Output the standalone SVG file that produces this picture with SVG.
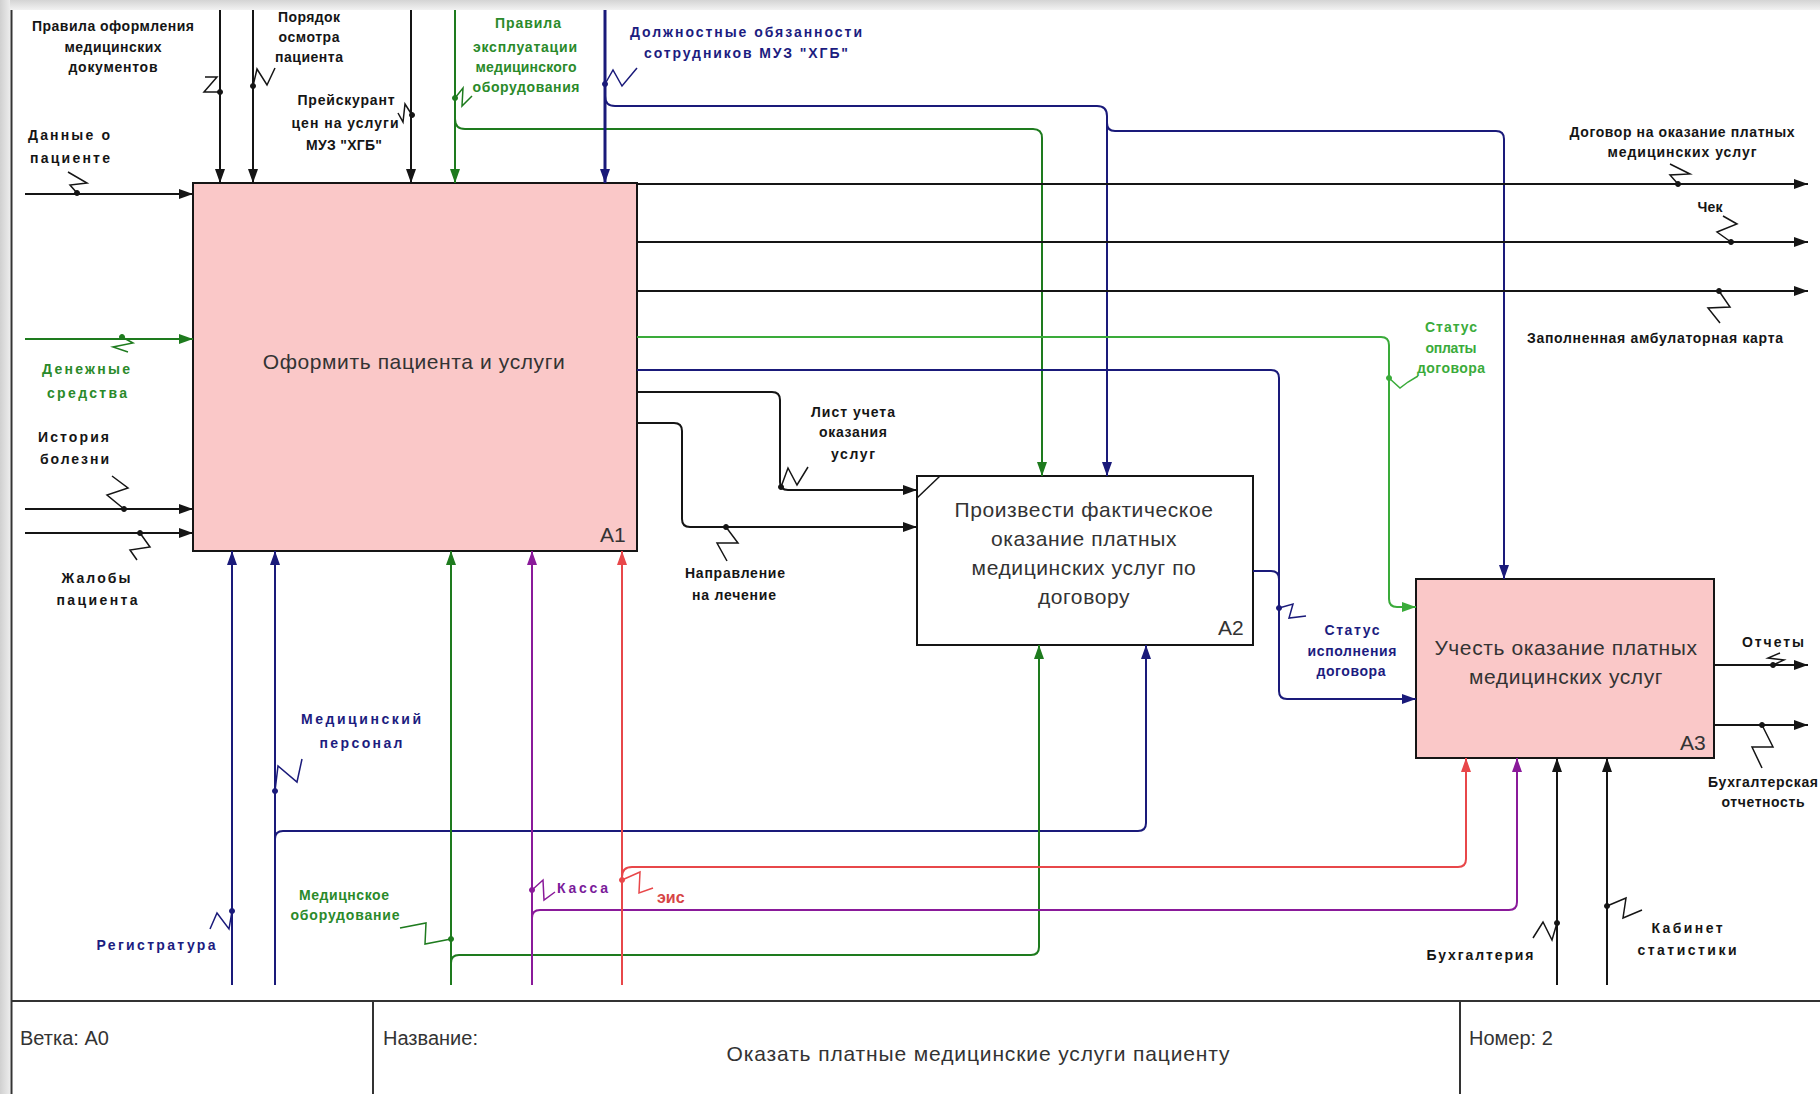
<svg xmlns="http://www.w3.org/2000/svg" width="1820" height="1094" viewBox="0 0 1820 1094">
<style>
.lb{font-family:"Liberation Sans",Arial,sans-serif;font-size:14px;font-weight:bold;fill:#151515}
.g{fill:#2a8a2a}.lg{fill:#3aab3a}.b{fill:#1c1c80}.p{fill:#7a1a9a}.r{fill:#d64545}
.bx{font-family:"Liberation Sans",Arial,sans-serif;font-size:21px;fill:#333;text-anchor:middle;letter-spacing:0.6px}
.nm{font-family:"Liberation Sans",Arial,sans-serif;font-size:21px;fill:#333}
.ft{font-family:"Liberation Sans",Arial,sans-serif;font-size:20px;fill:#333}
.c{text-anchor:middle}
.k{fill:none;stroke:#151515;stroke-width:2}
.kg{fill:none;stroke:#1e7b1e;stroke-width:2}
.klg{fill:none;stroke:#3aab3a;stroke-width:2}
.kb{fill:none;stroke:#1a1a7a;stroke-width:2}
.kp{fill:none;stroke:#8a1a9a;stroke-width:2}
.kr{fill:none;stroke:#e8474a;stroke-width:2}
.sq{fill:none;stroke-width:1.5}
</style>
<defs>
<linearGradient id="gt" x1="0" y1="0" x2="0" y2="1"><stop offset="0" stop-color="#d4d4d4"/><stop offset="1" stop-color="#f2f2f2"/></linearGradient>
<linearGradient id="gl" x1="0" y1="0" x2="1" y2="0"><stop offset="0" stop-color="#d0d0d0"/><stop offset="1" stop-color="#ececec"/></linearGradient>
<marker id="ak" viewBox="0 0 14 10" refX="14" refY="5" markerWidth="14" markerHeight="10" markerUnits="userSpaceOnUse" orient="auto"><path d="M0,0 L14,5 L0,10 z" fill="#151515"/></marker>
<marker id="ag" viewBox="0 0 14 10" refX="14" refY="5" markerWidth="14" markerHeight="10" markerUnits="userSpaceOnUse" orient="auto"><path d="M0,0 L14,5 L0,10 z" fill="#1e7b1e"/></marker>
<marker id="alg" viewBox="0 0 14 10" refX="14" refY="5" markerWidth="14" markerHeight="10" markerUnits="userSpaceOnUse" orient="auto"><path d="M0,0 L14,5 L0,10 z" fill="#3aab3a"/></marker>
<marker id="ab" viewBox="0 0 14 10" refX="14" refY="5" markerWidth="14" markerHeight="10" markerUnits="userSpaceOnUse" orient="auto"><path d="M0,0 L14,5 L0,10 z" fill="#1a1a7a"/></marker>
<marker id="ap" viewBox="0 0 14 10" refX="14" refY="5" markerWidth="14" markerHeight="10" markerUnits="userSpaceOnUse" orient="auto"><path d="M0,0 L14,5 L0,10 z" fill="#8a1a9a"/></marker>
<marker id="ar" viewBox="0 0 14 10" refX="14" refY="5" markerWidth="14" markerHeight="10" markerUnits="userSpaceOnUse" orient="auto"><path d="M0,0 L14,5 L0,10 z" fill="#e8474a"/></marker>
</defs>

<rect x="0" y="0" width="1820" height="1094" fill="#ffffff"/>
<rect x="0" y="0" width="1820" height="10" fill="url(#gt)"/>
<rect x="0" y="0" width="10" height="1094" fill="url(#gl)"/>
<line x1="11.5" y1="10" x2="11.5" y2="1094" stroke="#333" stroke-width="2"/>

<g id="footer">
<line x1="11" y1="1001" x2="1820" y2="1001" stroke="#333" stroke-width="2"/>
<line x1="373" y1="1001" x2="373" y2="1094" stroke="#333" stroke-width="2"/>
<line x1="1460" y1="1001" x2="1460" y2="1094" stroke="#333" stroke-width="2"/>
<text class="ft" x="20" y="1045">Ветка: A0</text>
<text class="ft" x="383" y="1045">Название:</text>
<text class="nm c" x="978" y="1061" textLength="503">Оказать платные медицинские услуги пациенту</text>
<text class="ft" x="1469" y="1045">Номер: 2</text>
</g>

<g id="A1">
<rect x="193" y="183" width="444" height="368" fill="#fac8c8" stroke="#151515" stroke-width="2"/>
<text class="bx" x="414" y="369">Оформить пациента и услуги</text>
<text class="nm" x="600" y="542">A1</text>
</g>

<g id="A2">
<rect x="917" y="476" width="336" height="169" fill="#ffffff" stroke="#151515" stroke-width="2"/>
<line x1="917" y1="498" x2="940" y2="476" stroke="#151515" stroke-width="1.5"/>
<text class="bx" x="1084" y="517">Произвести фактическое</text>
<text class="bx" x="1084" y="546">оказание платных</text>
<text class="bx" x="1084" y="575">медицинских услуг по</text>
<text class="bx" x="1084" y="604">договору</text>
<text class="nm" x="1218" y="635">A2</text>
</g>

<g id="A3">
<rect x="1416" y="579" width="298" height="179" fill="#fac8c8" stroke="#151515" stroke-width="2"/>
<text class="bx" x="1566" y="655">Учесть оказание платных</text>
<text class="bx" x="1566" y="684">медицинских услуг</text>
<text class="nm" x="1680" y="750">A3</text>
</g>

<g id="connectors">
<path class="k" d="M25,194 H193" marker-end="url(#ak)"/>
<path class="kg" d="M25,339 H193" marker-end="url(#ag)"/>
<path class="k" d="M25,509 H193" marker-end="url(#ak)"/>
<path class="k" d="M25,533 H193" marker-end="url(#ak)"/>
<path class="k" d="M220,10 V183" marker-end="url(#ak)"/>
<path class="k" d="M253,10 V183" marker-end="url(#ak)"/>
<path class="k" d="M411,10 V183" marker-end="url(#ak)"/>
<path class="kg" d="M455,10 V183" marker-end="url(#ag)"/>
<path class="kg" d="M455,119 Q455,129 465,129 H1033 Q1042,129 1042,138 V476" marker-end="url(#ag)"/>
<path class="kb" style="stroke-width:3" d="M605,10 V183" marker-end="url(#ab)"/>
<path class="kb" d="M605,96 Q605,106 615,106 H1097 Q1107,106 1107,116 V476" marker-end="url(#ab)"/>
<path class="kb" d="M1107,123 Q1107,131 1115,131 H1496 Q1504,131 1504,139 V579" marker-end="url(#ab)"/>
<path class="k" d="M637,184 H1808" marker-end="url(#ak)"/>
<path class="k" d="M637,242 H1808" marker-end="url(#ak)"/>
<path class="k" d="M637,291 H1808" marker-end="url(#ak)"/>
<path class="klg" d="M637,337 H1381 Q1389,337 1389,345 V599 Q1389,607 1397,607 H1416" marker-end="url(#alg)"/>
<path class="kb" d="M637,370 H1271 Q1279,370 1279,378 V691 Q1279,699 1287,699 H1416" marker-end="url(#ab)"/>
<path class="k" d="M637,392 H772 Q780,392 780,400 V482 Q780,490 788,490 H917" marker-end="url(#ak)"/>
<path class="k" d="M637,423 H674 Q682,423 682,431 V519 Q682,527 690,527 H917" marker-end="url(#ak)"/>
<path class="kb" d="M1253,571 H1271 Q1279,571 1279,579"/>
<path class="kb" d="M232,985 V551" marker-end="url(#ab)"/>
<path class="kb" d="M275,985 V551" marker-end="url(#ab)"/>
<path class="kb" d="M275,839 Q275,831 283,831 H1138 Q1146,831 1146,823 V645" marker-end="url(#ab)"/>
<path class="kg" d="M451,985 V551" marker-end="url(#ag)"/>
<path class="kg" d="M451,963 Q451,955 459,955 H1031 Q1039,955 1039,947 V645" marker-end="url(#ag)"/>
<path class="kp" d="M532,985 V551" marker-end="url(#ap)"/>
<path class="kp" d="M532,918 Q532,910 540,910 H1509 Q1517,910 1517,902 V758" marker-end="url(#ap)"/>
<path class="kr" d="M622,985 V551" marker-end="url(#ar)"/>
<path class="kr" d="M622,877 Q622,867 632,867 H1458 Q1466,867 1466,859 V758" marker-end="url(#ar)"/>
<path class="k" d="M1557,985 V758" marker-end="url(#ak)"/>
<path class="k" d="M1607,985 V758" marker-end="url(#ak)"/>
<path class="k" d="M1714,665 H1808" marker-end="url(#ak)"/>
<path class="k" d="M1714,725 H1808" marker-end="url(#ak)"/>
</g>

<g id="squiggles">
<g stroke="#151515" fill="#151515">
<polyline class="sq" points="220,92 204,92 217,77 205,77"/><circle cx="220" cy="92" r="2.5"/>
<polyline class="sq" points="253,86 257,69 267,85 275,68"/><circle cx="253" cy="86" r="2.5"/>
<polyline class="sq" points="412,115 405,104 403,122 398,113"/><circle cx="412" cy="115" r="2.5"/>
<polyline class="sq" points="77,193 70,185 87,183 68,172"/><circle cx="77" cy="193" r="2.5"/>
<polyline class="sq" points="1678,184 1670,175 1690,174 1670,164"/><circle cx="1678" cy="184" r="2.5"/>
<polyline class="sq" points="1731,242 1717,232 1737,224 1723,216"/><circle cx="1731" cy="242" r="2.5"/>
<polyline class="sq" points="1719,291 1730,307 1708,308 1720,323"/><circle cx="1719" cy="291" r="2.5"/>
<polyline class="sq" points="124,509 107,495 128,488 112,476"/><circle cx="124" cy="509" r="2.5"/>
<polyline class="sq" points="140,533 150,547 130,550 137,560"/><circle cx="140" cy="533" r="2.5"/>
<polyline class="sq" points="781,487 788,468 797,485 808,467"/><circle cx="781" cy="487" r="2.5"/>
<polyline class="sq" points="726,527 738,543 717,543 727,561"/><circle cx="726" cy="527" r="2.5"/>
<polyline class="sq" points="1773,665 1784,660 1768,658 1780,653"/><circle cx="1773" cy="665" r="2.5"/>
<polyline class="sq" points="1762,725 1773,747 1752,747 1762,768"/><circle cx="1762" cy="725" r="2.5"/>
<polyline class="sq" points="1557,923 1552,940 1543,922 1533,938"/><circle cx="1557" cy="923" r="2.5"/>
<polyline class="sq" points="1607,906 1626,898 1623,918 1642,910"/><circle cx="1607" cy="906" r="2.5"/>
</g>
<g stroke="#1e7b1e" fill="#1e7b1e">
<polyline class="sq" points="122,337 133,343 113,347 128,352"/><circle cx="122" cy="337" r="2.5"/>
<polyline class="sq" points="455,98 463,88 462,106 472,96"/><circle cx="455" cy="98" r="2.5"/>
<polyline class="sq" points="451,939 425,944 426,923 400,928"/><circle cx="451" cy="939" r="2.5"/>
</g>
<g stroke="#3aab3a" fill="#3aab3a">
<polyline class="sq" points="1389,378 1400,388 1408,382 1418,376"/><circle cx="1389" cy="378" r="2.5"/>
</g>
<g stroke="#1a1a7a" fill="#1a1a7a">
<polyline class="sq" points="605,84 613,70 622,86 637,68"/><circle cx="605" cy="84" r="2.5"/>
<polyline class="sq" points="1279,608 1293,604 1289,618 1306,616"/><circle cx="1279" cy="608" r="2.5"/>
<polyline class="sq" points="275,791 278,766 297,782 302,759"/><circle cx="275" cy="791" r="2.5"/>
<polyline class="sq" points="232,911 229,929 217,913 210,929"/><circle cx="232" cy="911" r="2.5"/>
</g>
<g stroke="#8a1a9a" fill="#8a1a9a">
<polyline class="sq" points="532,890 543,880 544,900 555,892"/><circle cx="532" cy="890" r="2.5"/>
</g>
<g stroke="#e8474a" fill="#e8474a">
<polyline class="sq" points="622,880 640,872 639,893 653,888"/><circle cx="622" cy="880" r="2.5"/>
</g>
</g>

<g id="labels">
<text class="lb c" x="113" y="31" textLength="162">Правила оформления</text>
<text class="lb c" x="113" y="52" textLength="97">медицинских</text>
<text class="lb c" x="113" y="72" textLength="89">документов</text>
<text class="lb c" x="309" y="22" textLength="62">Порядок</text>
<text class="lb c" x="309" y="42" textLength="61">осмотра</text>
<text class="lb c" x="309" y="62" textLength="68">пациента</text>
<text class="lb c" x="346" y="105" textLength="97">Прейскурант</text>
<text class="lb c" x="345" y="128" textLength="107">цен на услуги</text>
<text class="lb c" x="344" y="150" textLength="76">МУЗ "ХГБ"</text>
<text class="lb" x="28" y="140" textLength="82">Данные о</text>
<text class="lb" x="30" y="163" textLength="80">пациенте</text>
<text class="lb g c" x="528" y="28" textLength="66">Правила</text>
<text class="lb g c" x="525" y="52" textLength="104">эксплуатации</text>
<text class="lb g c" x="526" y="72" textLength="101">медицинского</text>
<text class="lb g c" x="526" y="92" textLength="107">оборудования</text>
<text class="lb b c" x="746" y="37" textLength="232">Должностные обязанности</text>
<text class="lb b c" x="746" y="58" textLength="204">сотрудников МУЗ "ХГБ"</text>
<text class="lb c" x="1682" y="137" textLength="225">Договор на оказание платных</text>
<text class="lb c" x="1682" y="157" textLength="149">медицинских услуг</text>
<text class="lb c" x="1710" y="212" textLength="25">Чек</text>
<text class="lb c" x="1655" y="343" textLength="256">Заполненная амбулаторная карта</text>
<text class="lb lg c" x="1451" y="332" textLength="52">Статус</text>
<text class="lb lg c" x="1451" y="353" textLength="51">оплаты</text>
<text class="lb lg c" x="1451" y="373" textLength="68">договора</text>
<text class="lb g c" x="86" y="374" textLength="88">Денежные</text>
<text class="lb g c" x="87" y="398" textLength="80">средства</text>
<text class="lb" x="38" y="442" textLength="71">История</text>
<text class="lb" x="40" y="464" textLength="69">болезни</text>
<text class="lb c" x="96" y="583" textLength="69">Жалобы</text>
<text class="lb c" x="97" y="605" textLength="81">пациента</text>
<text class="lb c" x="853" y="417" textLength="84">Лист учета</text>
<text class="lb c" x="853" y="437" textLength="68">оказания</text>
<text class="lb c" x="853" y="459" textLength="44">услуг</text>
<text class="lb c" x="735" y="578" textLength="100">Направление</text>
<text class="lb c" x="734" y="600" textLength="84">на лечение</text>
<text class="lb b c" x="1352" y="635" textLength="55">Статус</text>
<text class="lb b c" x="1352" y="656" textLength="89">исполнения</text>
<text class="lb b c" x="1351" y="676" textLength="69">договора</text>
<text class="lb c" x="1773" y="647" textLength="62">Отчеты</text>
<text class="lb c" x="1763" y="787" textLength="110">Бухгалтерская</text>
<text class="lb c" x="1763" y="807" textLength="83">отчетность</text>
<text class="lb c" x="1480" y="960" textLength="107">Бухгалтерия</text>
<text class="lb c" x="1687" y="933" textLength="71">Кабинет</text>
<text class="lb c" x="1687" y="955" textLength="99">статистики</text>
<text class="lb b c" x="361" y="724" textLength="120">Медицинский</text>
<text class="lb b c" x="361" y="748" textLength="83">персонал</text>
<text class="lb b c" x="156" y="950" textLength="119">Регистратура</text>
<text class="lb g c" x="344" y="900" textLength="90">Медицнское</text>
<text class="lb g c" x="345" y="920" textLength="109">оборудование</text>
<text class="lb p" x="557" y="893" textLength="51">Касса</text>
<text class="lb r" x="657" y="903" style="font-size:16px">эис</text>
</g>
</svg>
